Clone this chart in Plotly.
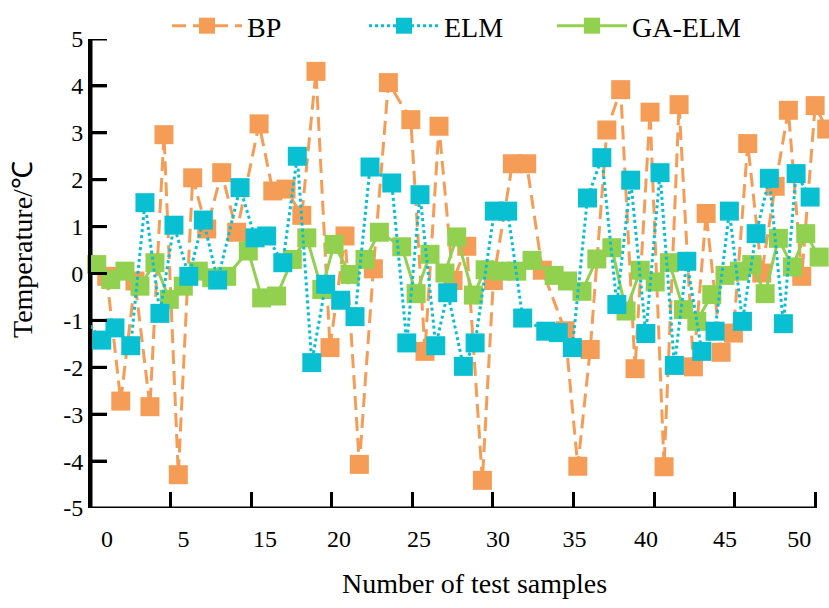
import plotly.graph_objects as go

# ---- data (x = sample position, y = temperature error, deg C) ----
bp_x = [1.05, 1.92, 2.80, 3.73, 4.60, 5.49, 6.38, 7.25, 8.18, 9.11,
        10.50, 11.35, 12.17, 13.15, 14.03, 14.90, 15.83, 16.72, 17.59, 18.52,
        19.91, 20.79, 21.66, 22.53, 23.38, 24.35, 25.03, 26.21, 27.10, 28.07,
        29.48, 30.27, 31.04, 32.07, 32.93, 33.82, 34.75, 35.62, 36.55, 37.44,
        38.23, 39.16, 39.92, 40.81, 41.68, 42.51, 43.33, 44.16, 44.99, 45.71]
bp_y = [-0.06, -2.72, -0.16, -2.84, 2.96, -4.29, 2.04, 0.95, 2.15, 0.88,
        3.19, 1.76, 1.80, 1.24, 4.31, -1.58, 0.80, -4.07, 0.10, 4.07,
        3.28, -1.66, 3.14, -0.15, 0.58, -4.41, -0.15, 2.34, 2.34, 0.07,
        -1.22, -4.11, -1.62, 3.06, 3.92, -2.03, 3.44, -4.12, 3.60, -1.99,
        1.28, -1.68, -1.27, 2.77, 0.01, 1.86, 3.48, -0.06, 3.58, 3.08]

elm_x = [-0.19, 0.74, 1.56, 2.54, 3.42, 4.35, 5.22, 6.14, 7.04, 7.93,
         9.32, 10.25, 10.97, 11.97, 12.87, 13.77, 14.63, 15.56, 16.45, 17.38,
         18.73, 19.66, 20.48, 21.46, 22.20, 23.17, 23.90, 25.09, 25.92, 26.85,
         28.28, 29.06, 29.93, 30.87, 31.76, 32.69, 33.55, 34.49, 35.37, 36.26,
         37.03, 37.96, 38.78, 39.67, 40.48, 41.33, 42.15, 43.02, 43.81, 44.68]
elm_y = [-1.02, -1.42, -1.16, -1.54, 1.51, -0.85, 1.03, -0.06, 1.14, -0.14,
         1.83, 0.76, 0.80, 0.23, 2.50, -1.90, -0.23, -0.57, -0.92, 2.27,
         1.93, -1.48, 1.68, -1.54, -0.41, -1.98, -1.48, 1.33, 1.33, -0.95,
         -1.23, -1.26, -1.58, 1.61, 2.47, -0.66, 1.99, -1.28, 2.15, -1.96,
         0.26, -1.66, -1.23, 1.33, -1.02, 0.85, 2.03, -1.07, 2.13, 1.63]

ga_x = [0.43, 1.30, 2.18, 3.11, 4.04, 4.93, 5.80, 6.73, 7.56, 8.49,
        9.83, 10.66, 11.59, 12.56, 13.46, 14.39, 15.15, 16.14, 17.07, 17.96,
        19.35, 20.24, 21.10, 22.03, 22.76, 23.79, 24.52, 25.55, 26.48, 27.43,
        28.80, 29.63, 30.53, 31.45, 32.38, 33.26, 34.14, 35.07, 35.95, 36.82,
        37.65, 38.58, 39.40, 40.29, 41.06, 41.89, 42.71, 43.58, 44.41, 45.24]
ga_y = [0.19, -0.13, 0.05, -0.27, 0.23, -0.55, -0.27, 0.05, -0.09, -0.06,
        0.48, -0.52, -0.48, 0.30, 0.76, -0.34, 0.62, -0.02, 0.30, 0.88,
        0.57, -0.43, 0.41, 0.01, 0.78, -0.46, 0.08, 0.05, 0.05, 0.28,
        -0.04, -0.16, -0.38, 0.31, 0.55, -0.80, 0.07, -0.18, 0.23, -0.77,
        -1.02, -0.45, -0.04, 0.05, 0.19, -0.43, 0.75, 0.14, 0.85, 0.35]

x_tick_pos = [5, 10, 15, 20, 25, 30, 35, 40, 45]
x_label_pos = [1.06, 5.81, 10.86, 15.45, 20.42, 25.32, 30.07, 34.5, 39.4, 44.0]
x_label_text = ["0", "5", "15", "20", "25", "30", "35", "40", "45", "50"]
y_tick_vals = [-5, -4, -3, -2, -1, 0, 1, 2, 3, 4, 5]
y_tick_text = ["-5", "-4", "-3", "-2", "-1", "0", "1", "2", "3", "4", "5"]

X_MIN, X_MAX = 0.074, 45.85
ORANGE, CYAN, GREEN = "#F59D56", "#08C0D2", "#92D050"
FONT = "Liberation Serif, Times New Roman, serif"

PW, PH, PL, PB = 738, 469, 91, 508
TICK_LEN_X = 16 * (X_MAX - X_MIN) / PW  # 16 px expressed in x units

fig = go.Figure()
fig.add_trace(go.Scatter(
    x=bp_x, y=bp_y, name="BP", mode="lines+markers", legend="legend",
    line=dict(color=ORANGE, width=3, dash="14px,7px"),
    marker=dict(symbol="square", size=19, color=ORANGE), cliponaxis=False))
fig.add_trace(go.Scatter(
    x=ga_x, y=ga_y, name="GA-ELM", mode="lines+markers", legend="legend3",
    line=dict(color=GREEN, width=3),
    marker=dict(symbol="square", size=19, color=GREEN), cliponaxis=False))
fig.add_trace(go.Scatter(
    x=elm_x, y=elm_y, name="ELM", mode="lines+markers", legend="legend2",
    line=dict(color=CYAN, width=3, dash="dot"),
    marker=dict(symbol="square", size=19, color=CYAN), cliponaxis=False))


def px_x(px):
    return (px - PL) / PW


def px_y(py):
    return (PB - py) / PH


def legend_at(px):
    return dict(orientation="h", x=px_x(px), y=px_y(1), xanchor="left", yanchor="top",
                font=dict(family=FONT, size=28), itemwidth=70,
                bgcolor="rgba(0,0,0,0)", borderwidth=0)


shapes = [dict(type="line", xref="x", yref="y", x0=X_MIN, x1=45, y0=-5, y1=-5,
               line=dict(color="black", width=3), layer="below"),
          dict(type="line", xref="x", yref="y", x0=X_MIN, x1=X_MIN, y0=-5, y1=5,
               line=dict(color="black", width=3), layer="below")]
for v in y_tick_vals[1:]:
    shapes.append(dict(type="line", xref="x", yref="y", x0=X_MIN, x1=X_MIN + TICK_LEN_X,
                       y0=v, y1=v, line=dict(color="black", width=3), layer="below"))

fig.update_layout(
    width=829, height=608,
    margin=dict(l=PL, r=829 - PL - PW, t=PB - PH, b=608 - PB),
    paper_bgcolor="white", plot_bgcolor="white",
    font=dict(family=FONT, size=24, color="black"),
    xaxis=dict(range=[X_MIN, X_MAX], showline=False, showgrid=False, zeroline=False,
               tickvals=x_label_pos, ticktext=x_label_text, ticks="",
               tickfont=dict(family=FONT, size=24), ticklabelstandoff=14,
               minor=dict(tickvals=x_tick_pos, ticks="inside", ticklen=16, tickwidth=2.5,
                          tickcolor="black", showgrid=False),
               automargin=False),
    yaxis=dict(range=[-5, 5], showline=True, linewidth=3, linecolor="black",
               showgrid=False, zeroline=False, tickmode="array",
               tickvals=y_tick_vals, ticktext=y_tick_text,
               ticks="inside", ticklen=16, tickwidth=2.5, tickcolor="black",
               tickfont=dict(family=FONT, size=24), ticksuffix="  ", automargin=False),
    showlegend=True,
    legend=legend_at(167),
    legend2=legend_at(364),
    legend3=legend_at(552),
    shapes=shapes,
    annotations=[
        dict(text="Number of test samples", xref="paper", yref="paper",
             x=px_x(474), y=px_y(583), showarrow=False,
             font=dict(family=FONT, size=28), xanchor="center", yanchor="middle"),
        dict(text="Temperature/℃", xref="paper", yref="paper",
             x=px_x(22), y=px_y(250), showarrow=False, textangle=-90,
             font=dict(family=FONT, size=28), xanchor="center", yanchor="middle"),
    ],
)

fig.write_html("out.html")
